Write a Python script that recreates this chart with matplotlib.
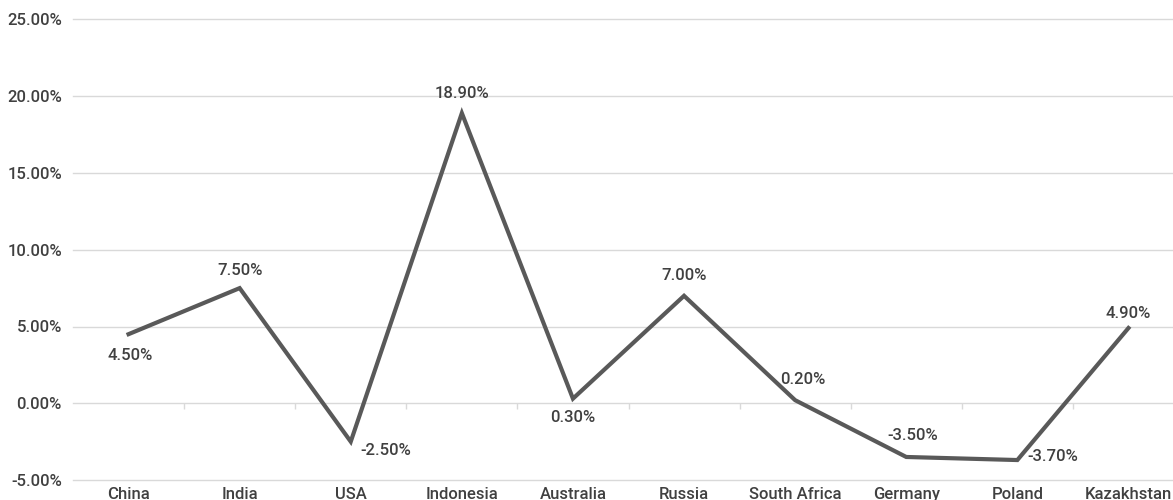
import numpy as np
import matplotlib.pyplot as plt

countries = ["China", "India", "USA", "Indonesia", "Australia", "Russia",
             "South Africa", "Germany", "Poland", "Kazakhstan"]
growth = [4.5, 7.5, -2.5, 18.9, 0.3, 7.0, 0.2, -3.5, -3.7, 4.9]
y_ticks = [-5, 0, 5, 10, 15, 20, 25]

# label offsets in pixels (dx, dy) and horizontal alignment
label_pos = [(2, -21, "center"), (0, 18, "center"), (10, -9, "left"),
             (0, 20, "center"), (0, -19, "center"), (0, 20, "center"),
             (8, 21, "center"), (6, 21, "center"), (10, 4, "left"),
             (0, 15, "center")]

TEXT = "#404040"
GRID = "#d9d9d9"
plt.rcParams["font.family"] = ["Roboto", "DejaVu Sans"]
FONT = dict(fontsize=12, weight="medium", color=TEXT)

fig = plt.figure(figsize=(11.73, 5.0), dpi=100)
ax = fig.add_axes([73 / 1173, 20 / 500, 1111 / 1173, 460.5 / 500])

x = np.arange(len(countries))
ax.plot(x, growth, color="#595959", linewidth=3, solid_joinstyle="miter", zorder=3)

for xi, v, (dx, dy, ha) in zip(x, growth, label_pos):
    ax.annotate(f"{v:.2f}%", (xi, v), xytext=(dx, dy), textcoords="offset pixels",
                ha=ha, va="center", **FONT)

ax.set_xlim(-0.5, len(countries) - 0.5)
ax.set_ylim(-5, 25)
ax.set_yticks(y_ticks)
ax.set_yticklabels([f"{t:.2f}%" for t in y_ticks], **FONT)
ax.yaxis.grid(True, color=GRID, linewidth=1)
for gl in ax.get_ygridlines():
    gl.set_clip_on(False)
ax.set_axisbelow(True)

ax.set_xticks(x)
ax.set_xticklabels(countries, **FONT)
ax.tick_params(axis="x", length=0, pad=5)
ax.tick_params(axis="y", length=0, pad=8)

# small category ticks on the zero line, like an Excel axis crossing at 0
bounds = np.arange(0.5, len(countries) - 0.5)
ax.vlines(bounds, -0.35, 0, color=GRID, linewidth=1, zorder=2)

for s in ax.spines.values():
    s.set_visible(False)

fig.savefig("out.png", dpi=100)
